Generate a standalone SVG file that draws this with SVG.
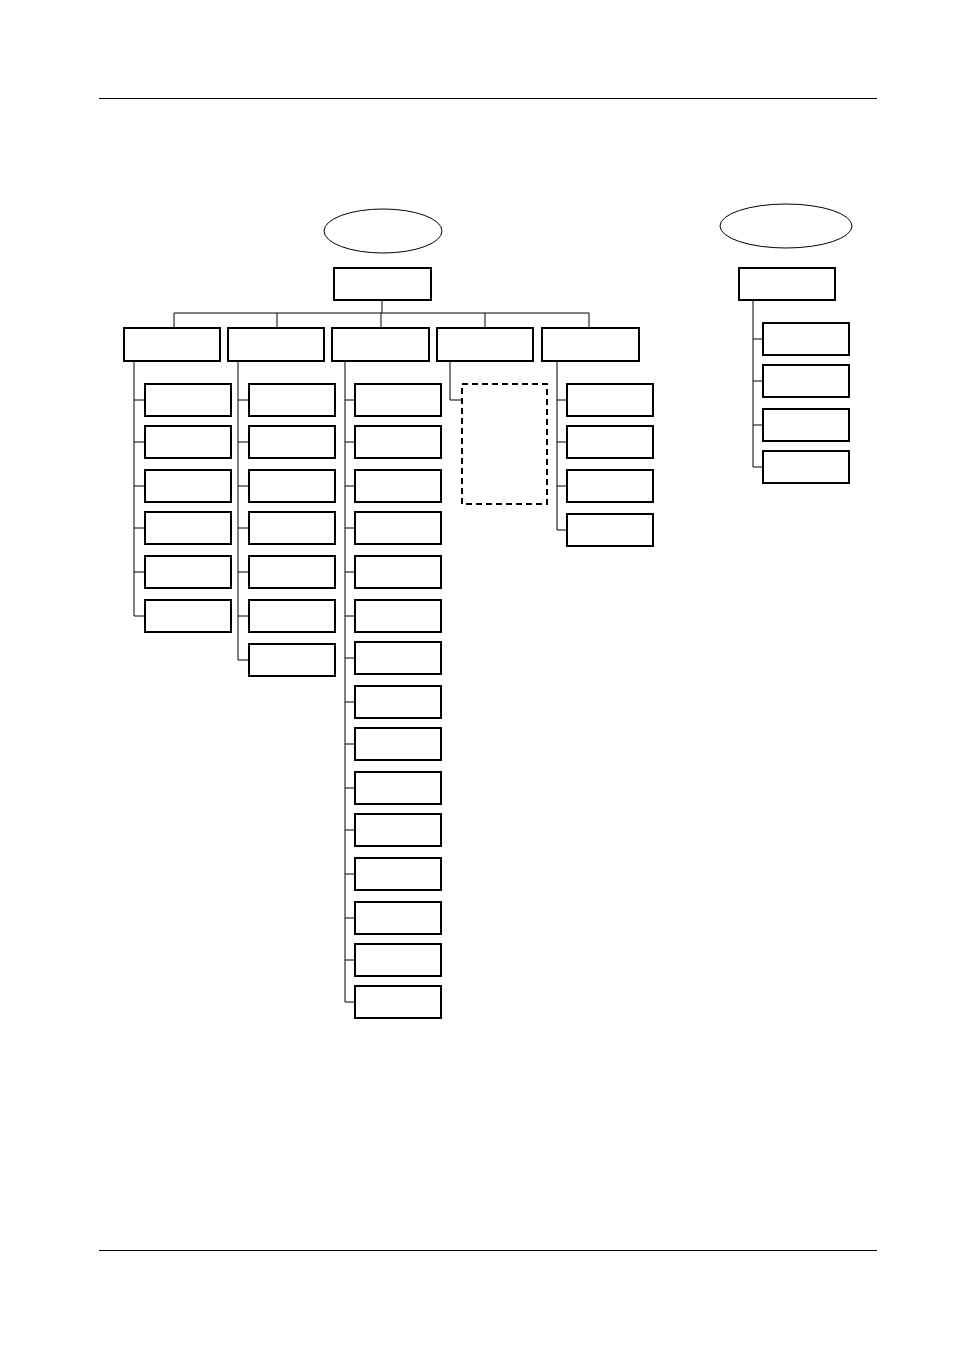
<svg xmlns="http://www.w3.org/2000/svg" width="954" height="1351" viewBox="0 0 954 1351">
<style>
.b{fill:#fff;stroke:#000;stroke-width:2}
.e{fill:#fff;stroke:#000;stroke-width:1}
.c{fill:none;stroke:#000;stroke-width:1}
.d{fill:#fff;stroke:#000;stroke-width:2;stroke-dasharray:6,4}
</style>
<rect width="954" height="1351" fill="#fff"/>
<line x1="99" y1="98.5" x2="877" y2="98.5" class="c"/>
<line x1="99" y1="1250.5" x2="877" y2="1250.5" class="c"/>
<g id="connectors">
<path class="c" d="M382 300V313M174 313H589M174 313V328M277 313V328M381 313V328M485 313V328M589 313V328"/>
<path class="c" d="M134 361V616M134 400H145M134 442H145M134 486H145M134 528H145M134 572H145M134 616H145"/>
<path class="c" d="M238 361V660M238 400H249M238 442H249M238 486H249M238 528H249M238 572H249M238 616H249M238 660H249"/>
<path class="c" d="M345 361V1002M345 400H355M345 442H355M345 486H355M345 528H355M345 572H355M345 616H355M345 658H355M345 702H355M345 744H355M345 788H355M345 830H355M345 874H355M345 918H355M345 960H355M345 1002H355"/>
<path class="c" d="M450 361V400H462"/>
<path class="c" stroke-width="2" d="M557 361V530M557 400H567M557 442H567M557 486H567M557 530H567"/>
<path class="c" stroke-width="2" d="M753 300V467M753 339H763M753 381H763M753 425H763M753 467H763"/>
</g>
<g id="root"><ellipse class="e" cx="383" cy="231" rx="59" ry="22"/><rect class="b" x="334" y="268" width="97" height="32"/></g>
<g id="l1">
<rect class="b" x="124" y="328" width="96" height="33"/>
<rect class="b" x="228" y="328" width="96" height="33"/>
<rect class="b" x="332" y="328" width="97" height="33"/>
<rect class="b" x="437" y="328" width="96" height="33"/>
<rect class="b" x="542" y="328" width="97" height="33"/>
</g>
<g id="col1">
<rect class="b" x="145" y="384" width="86" height="32"/><rect class="b" x="145" y="426" width="86" height="32"/><rect class="b" x="145" y="470" width="86" height="32"/><rect class="b" x="145" y="512" width="86" height="32"/><rect class="b" x="145" y="556" width="86" height="32"/><rect class="b" x="145" y="600" width="86" height="32"/>
</g>
<g id="col2">
<rect class="b" x="249" y="384" width="86" height="32"/><rect class="b" x="249" y="426" width="86" height="32"/><rect class="b" x="249" y="470" width="86" height="32"/><rect class="b" x="249" y="512" width="86" height="32"/><rect class="b" x="249" y="556" width="86" height="32"/><rect class="b" x="249" y="600" width="86" height="32"/><rect class="b" x="249" y="644" width="86" height="32"/>
</g>
<g id="col3">
<rect class="b" x="355" y="384" width="86" height="32"/><rect class="b" x="355" y="426" width="86" height="32"/><rect class="b" x="355" y="470" width="86" height="32"/><rect class="b" x="355" y="512" width="86" height="32"/><rect class="b" x="355" y="556" width="86" height="32"/><rect class="b" x="355" y="600" width="86" height="32"/><rect class="b" x="355" y="642" width="86" height="32"/><rect class="b" x="355" y="686" width="86" height="32"/><rect class="b" x="355" y="728" width="86" height="32"/><rect class="b" x="355" y="772" width="86" height="32"/><rect class="b" x="355" y="814" width="86" height="32"/><rect class="b" x="355" y="858" width="86" height="32"/><rect class="b" x="355" y="902" width="86" height="32"/><rect class="b" x="355" y="944" width="86" height="32"/><rect class="b" x="355" y="986" width="86" height="32"/>
</g>
<g id="col4"><rect class="d" x="462" y="384" width="85" height="120"/></g>
<g id="col5">
<rect class="b" x="567" y="384" width="86" height="32"/><rect class="b" x="567" y="426" width="86" height="32"/><rect class="b" x="567" y="470" width="86" height="32"/><rect class="b" x="567" y="514" width="86" height="32"/>
</g>
<g id="right">
<ellipse class="e" cx="786" cy="226" rx="66" ry="22"/>
<rect class="b" x="739" y="268" width="96" height="32"/>
<rect class="b" x="763" y="323" width="86" height="32"/><rect class="b" x="763" y="365" width="86" height="32"/><rect class="b" x="763" y="409" width="86" height="32"/><rect class="b" x="763" y="451" width="86" height="32"/>
</g>
</svg>
